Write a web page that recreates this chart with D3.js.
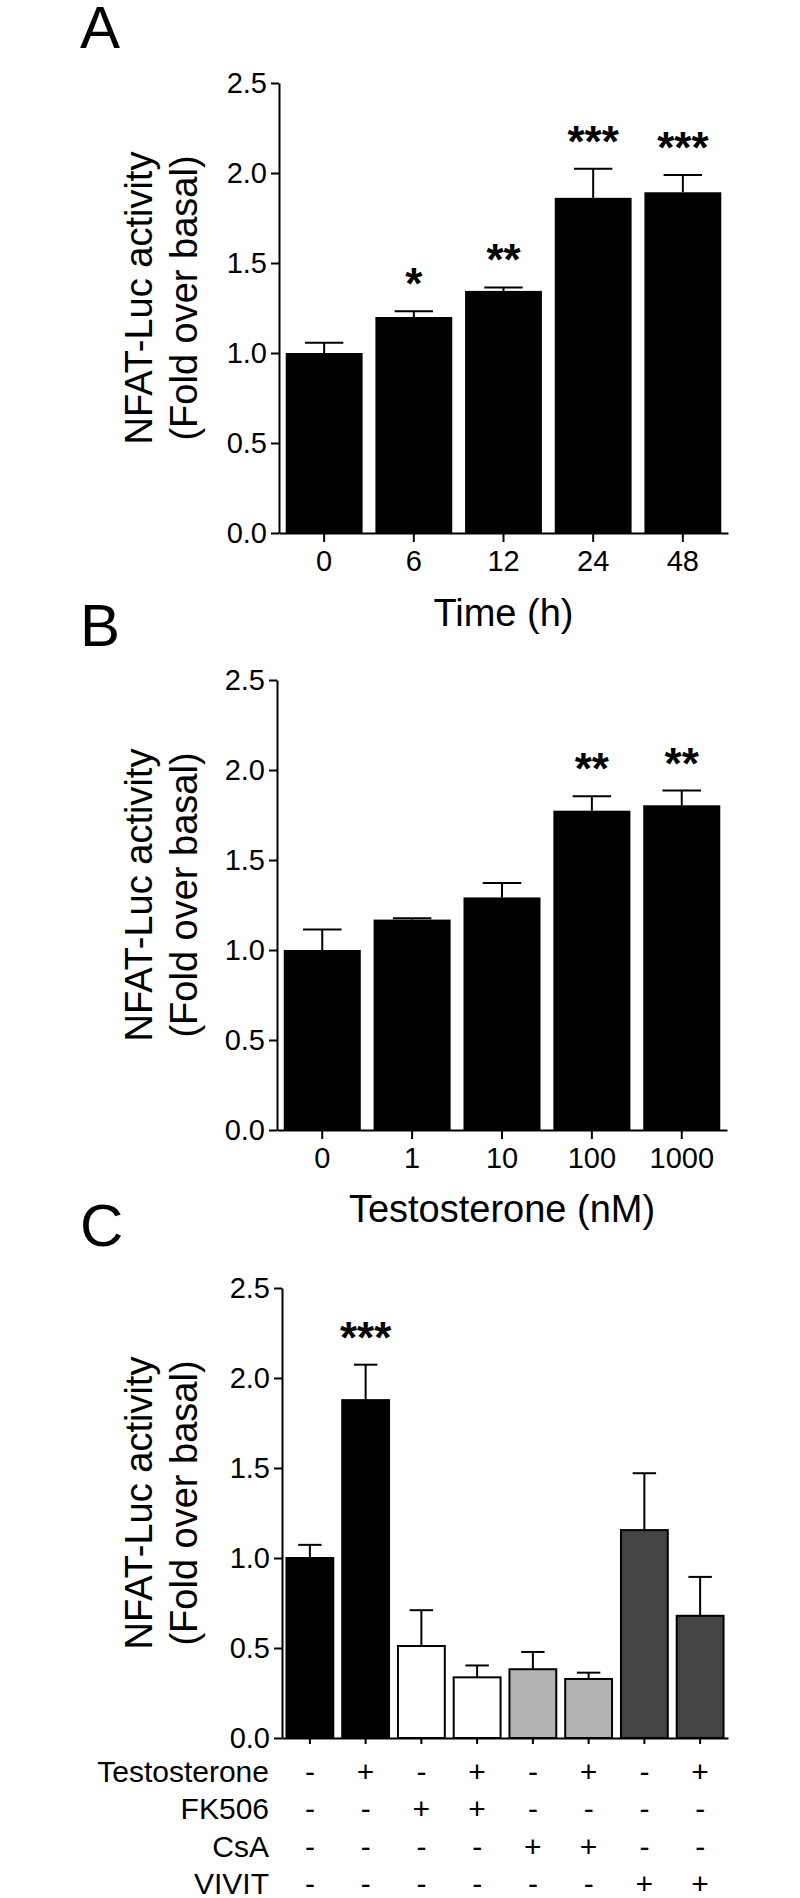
<!DOCTYPE html>
<html>
<head>
<meta charset="utf-8">
<script src="https://cdn.jsdelivr.net/npm/d3@7"></script>
<style>
  html, body { margin: 0; padding: 0; background: #fff; }
  svg { display: block; }
  text { font-family: "Liberation Sans", Arial, Helvetica, sans-serif; fill: #000; }
</style>
</head>
<body>
<svg id="chart" width="800" height="1898"></svg>
<script>
// ---------------- DATA ----------------
const yTicks = [0, 0.5, 1.0, 1.5, 2.0, 2.5];

// Panel A
const timeCats = ["0", "6", "12", "24", "48"];
const timeMeans = [1.0, 1.2, 1.345, 1.862, 1.893];
const timeErrs = [0.057, 0.032, 0.019, 0.161, 0.096];
const timeSig = ["", "*", "**", "***", "***"];

// Panel B
const doseCats = ["0", "1", "10", "100", "1000"];
const doseMeans = [1.0, 1.169, 1.292, 1.774, 1.804];
const doseErrs = [0.114, 0.007, 0.08, 0.08, 0.082];
const doseSig = ["", "", "", "**", "**"];

// Panel C
const condCats = ["c1", "c2", "c3", "c4", "c5", "c6", "c7", "c8"];
const condMeans = [1.0, 1.877, 0.511, 0.337, 0.382, 0.328, 1.155, 0.679];
const condErrs = [0.073, 0.197, 0.199, 0.066, 0.096, 0.035, 0.316, 0.216];
const condSig = ["", "***", "", "", "", "", "", ""];
const condFill = ["#000000", "#000000", "#ffffff", "#ffffff", "#b3b3b3", "#b3b3b3", "#444444", "#444444"];
const treatLabels = ["Testosterone", "FK506", "CsA", "VIVIT"];
const treatTestosterone = ["-", "+", "-", "+", "-", "+", "-", "+"];
const treatFK506 = ["-", "-", "+", "+", "-", "-", "-", "-"];
const treatCsA = ["-", "-", "-", "-", "+", "+", "-", "-"];
const treatVIVIT = ["-", "-", "-", "-", "-", "-", "+", "+"];
const treatRows = [treatTestosterone, treatFK506, treatCsA, treatVIVIT];

const yTitle1 = "NFAT-Luc activity";
const yTitle2 = "(Fold over basal)";

// ---------------- DRAW ----------------
const svg = d3.select("#chart");
const FONT = "'Liberation Sans', Arial, Helvetica, sans-serif";

function panel(opts) {
  const g = svg.append("g");
  const y = d3.scaleLinear().domain([0, 2.5]).range([opts.y0, opts.y1]);
  const x = d3.scaleBand().domain(opts.cats).range([opts.x0, opts.x1])
    .paddingInner(opts.padIn).paddingOuter(opts.padOut);

  // bars
  g.selectAll("rect.bar").data(opts.means).enter().append("rect")
    .attr("class", "bar")
    .attr("x", (d, i) => x(opts.cats[i]))
    .attr("width", x.bandwidth())
    .attr("y", d => y(d))
    .attr("height", d => y(0) - y(d))
    .attr("fill", (d, i) => opts.fills ? opts.fills[i] : "#000")
    .attr("stroke", "#000")
    .attr("stroke-width", opts.fills ? 2 : 0);

  // error bars (upper only)
  const capW = x.bandwidth() / 2;
  opts.means.forEach((m, i) => {
    const cx = x(opts.cats[i]) + x.bandwidth() / 2;
    const top = y(m + opts.errs[i]);
    g.append("line").attr("x1", cx).attr("x2", cx)
      .attr("y1", y(m)).attr("y2", top)
      .attr("stroke", "#000").attr("stroke-width", 2);
    g.append("line").attr("x1", cx - capW / 2).attr("x2", cx + capW / 2)
      .attr("y1", top).attr("y2", top)
      .attr("stroke", "#000").attr("stroke-width", 2);
    if (opts.sig[i]) {
      g.append("text").attr("x", cx).attr("y", top - 12)
        .attr("text-anchor", "middle")
        .style("font-size", "44px").style("font-weight", "bold")
        .text(opts.sig[i]);
    }
  });

  // y axis
  const ya = g.append("g").attr("transform", `translate(${opts.x0},0)`)
    .call(d3.axisLeft(y).tickValues(yTicks).tickFormat(d3.format(".1f"))
      .tickSize(8).tickSizeOuter(0).tickPadding(4));
  ya.selectAll("path, line").attr("stroke", "#000").attr("stroke-width", 2);
  ya.selectAll("text").style("font-size", "29px").style("font-family", FONT).attr("fill", "#000");

  // x axis
  const xa = g.append("g").attr("transform", `translate(0,${opts.y0})`)
    .call(d3.axisBottom(x).tickSize(opts.xTick).tickSizeOuter(0)
      .tickFormat(opts.showX ? (d => d) : (() => "")));
  xa.selectAll("path, line").attr("stroke", "#000").attr("stroke-width", 2);
  xa.selectAll("text").style("font-size", "29px").style("font-family", FONT)
    .attr("fill", "#000").attr("dy", null).attr("y", 38);

  // y title
  const cy = (opts.y0 + opts.y1) / 2 - 10;
  g.append("text").attr("transform", `translate(152,${cy}) rotate(-90)`)
    .attr("text-anchor", "middle").style("font-size", "38px").text(yTitle1);
  g.append("text").attr("transform", `translate(197,${cy}) rotate(-90)`)
    .attr("text-anchor", "middle").style("font-size", "38px").text(yTitle2);

  // x title
  if (opts.xTitle) {
    g.append("text").attr("x", (opts.x0 + opts.x1) / 2).attr("y", opts.xTitleY)
      .attr("text-anchor", "middle").style("font-size", "38px").text(opts.xTitle);
  }

  // panel letter
  g.append("text").attr("x", 80).attr("y", opts.letterY)
    .style("font-size", "60px").text(opts.letter);

  return { x, y, g };
}

panel({
  letter: "A", letterY: 48,
  cats: timeCats, means: timeMeans, errs: timeErrs, sig: timeSig,
  x0: 279, x1: 728, y0: 533, y1: 83, padIn: 0.143, padOut: 0.075,
  xTick: 9, showX: true, xTitle: "Time (h)", xTitleY: 626
});

panel({
  letter: "B", letterY: 646,
  cats: doseCats, means: doseMeans, errs: doseErrs, sig: doseSig,
  x0: 277, x1: 727, y0: 1130, y1: 680, padIn: 0.143, padOut: 0.075,
  xTick: 9, showX: true, xTitle: "Testosterone (nM)", xTitleY: 1222
});

const pc = panel({
  letter: "C", letterY: 1246,
  cats: condCats, means: condMeans, errs: condErrs, sig: condSig, fills: condFill,
  x0: 282, x1: 728, y0: 1738, y1: 1288, padIn: 0.16, padOut: 0.08,
  xTick: 6, showX: false
});

// treatment table
const rowBase = [1782, 1819.3, 1856.6, 1893.5];
const tg = svg.append("g");
treatLabels.forEach((lab, r) => {
  tg.append("text").attr("x", 269).attr("y", rowBase[r])
    .attr("text-anchor", "end").style("font-size", "30px").text(lab);
  treatRows[r].forEach((s, i) => {
    tg.append("text")
      .attr("x", pc.x(condCats[i]) + pc.x.bandwidth() / 2)
      .attr("y", rowBase[r])
      .attr("text-anchor", "middle").style("font-size", "30px").text(s);
  });
});
</script>
</body>
</html>
